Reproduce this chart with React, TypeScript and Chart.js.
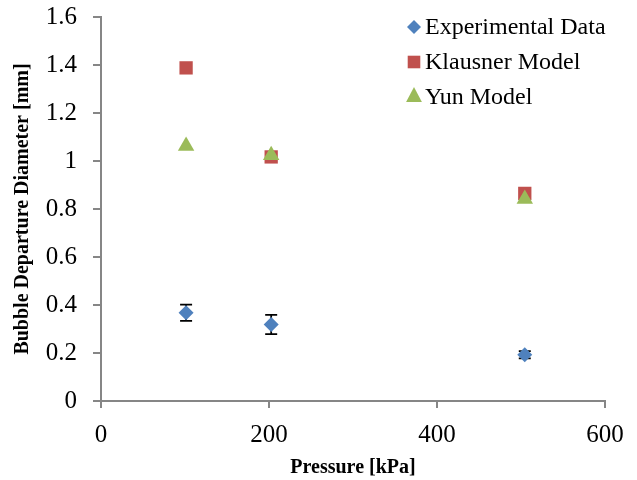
import React, { useEffect, useRef } from "react";
import { Chart, registerables } from "chart.js";

Chart.register(...registerables);

const seriesNames = ["Experimental Data", "Klausner Model", "Yun Model"];
const colors = ["#4F81BD", "#C0504D", "#9BBB59"];
const pressures = [101.3, 202.6, 504.5];
const experimental = [0.368, 0.319, 0.193];
const experimentalErr = [0.034, 0.04, 0.015];
const klausner = [1.388, 1.017, 0.865];
const yun = [1.062, 1.024, 0.842];
const xTicks = [0, 200, 400, 600];
const yTicks = [0, 0.2, 0.4, 0.6, 0.8, 1, 1.2, 1.4, 1.6];

const FONT = "'Liberation Serif', 'Times New Roman', serif";

const errorBarPlugin = {
  id: "errorBars",
  beforeDatasetsDraw(chart: any) {
    const ctx = chart.ctx;
    const xs = chart.scales.x;
    const ys = chart.scales.y;
    ctx.save();
    ctx.strokeStyle = "#000000";
    ctx.lineWidth = 1.75;
    pressures.forEach((p, i) => {
      const px = xs.getPixelForValue(p);
      const top = ys.getPixelForValue(experimental[i] + experimentalErr[i]);
      const bot = ys.getPixelForValue(experimental[i] - experimentalErr[i]);
      ctx.beginPath();
      ctx.moveTo(px, top);
      ctx.lineTo(px, bot);
      ctx.moveTo(px - 6, top);
      ctx.lineTo(px + 6, top);
      ctx.moveTo(px - 6, bot);
      ctx.lineTo(px + 6, bot);
      ctx.stroke();
    });
    ctx.restore();
  },
};

function drawMarker(ctx: CanvasRenderingContext2D, style: string, r: number, x: number, y: number) {
  ctx.beginPath();
  if (style === "rectRot") {
    ctx.moveTo(x - r, y);
    ctx.lineTo(x, y - r);
    ctx.lineTo(x + r, y);
    ctx.lineTo(x, y + r);
  } else if (style === "rect") {
    ctx.rect(x - r, y - r, 2 * r, 2 * r);
  } else {
    ctx.moveTo(x, y - r);
    ctx.lineTo(x + r, y + r * 0.9);
    ctx.lineTo(x - r, y + r * 0.9);
  }
  ctx.closePath();
  ctx.fill();
}

const legendPlugin = {
  id: "customLegend",
  afterDraw(chart: any) {
    const ctx = chart.ctx;
    const styles = ["rectRot", "rect", "triangle"];
    const radii = [7, 6.3, 7.9];
    const x0 = 414;
    const rows = [27, 62, 95];
    const textRows = [27, 62, 97];
    ctx.save();
    ctx.font = `24px ${FONT}`;
    ctx.textBaseline = "middle";
    seriesNames.forEach((name, i) => {
      ctx.fillStyle = colors[i];
      drawMarker(ctx, styles[i], radii[i], x0, rows[i]);
      ctx.fillStyle = "#000000";
      ctx.fillText(name, x0 + 11, textRows[i] + 1);
    });
    ctx.restore();
  },
};

export default function App() {
  const canvasRef = useRef<HTMLCanvasElement | null>(null);

  useEffect(() => {
    if (!canvasRef.current) return;
    const mk = (vals: number[]) => pressures.map((p, i) => ({ x: p, y: vals[i] }));
    const chart = new Chart(canvasRef.current, {
      type: "scatter",
      data: {
        datasets: [
          {
            label: seriesNames[2],
            data: mk(yun),
            pointStyle: "triangle",
            pointRadius: 9.5,
            backgroundColor: colors[2],
            borderColor: colors[2],
            borderWidth: 0,
          },
          {
            label: seriesNames[1],
            data: mk(klausner),
            pointStyle: "rect",
            pointRadius: 9.4,
            backgroundColor: colors[1],
            borderColor: colors[1],
            borderWidth: 0,
          },
          {
            label: seriesNames[0],
            data: mk(experimental),
            pointStyle: "rectRot",
            pointRadius: 7.5,
            backgroundColor: colors[0],
            borderColor: colors[0],
            borderWidth: 0,
          },
        ],
      },
      options: {
        animation: false,
        responsive: true,
        maintainAspectRatio: false,
        layout: { padding: { top: 17, right: 32, left: 0, bottom: 0 } },
        plugins: {
          legend: { display: false },
          tooltip: { enabled: false },
        },
        scales: {
          x: {
            type: "linear",
            min: 0,
            max: 600,
            afterBuildTicks: (s: any) => {
              s.ticks = xTicks.map((v) => ({ value: v }));
            },
            afterFit: (s: any) => {
              s.height = 79;
              s.paddingTop = 0;
              s.paddingBottom = 0;
            },
            grid: {
              drawOnChartArea: false,
              drawTicks: true,
              tickLength: 7,
              color: "#868686",
              lineWidth: 2,
            },
            border: { display: true, color: "#868686", width: 2 },
            ticks: {
              color: "#000000",
              font: { family: FONT, size: 25 },
              padding: 12,
            },
            title: {
              display: true,
              text: "Pressure [kPa]",
              color: "#000000",
              font: { family: FONT, size: 20, weight: "bold" },
              padding: { top: 0, bottom: 0 },
            },
          },
          y: {
            type: "linear",
            min: 0,
            max: 1.6,
            afterBuildTicks: (s: any) => {
              s.ticks = yTicks.map((v) => ({ value: v }));
            },
            afterFit: (s: any) => {
              s.width = 101;
              s.paddingTop = 0;
              s.paddingBottom = 0;
            },
            grid: {
              drawOnChartArea: false,
              drawTicks: true,
              tickLength: 8,
              color: "#868686",
              lineWidth: 2,
            },
            border: { display: true, color: "#868686", width: 2 },
            ticks: {
              color: "#000000",
              font: { family: FONT, size: 25 },
              padding: 16,
              callback: (v: any) => String(Math.round(Number(v) * 10) / 10),
            },
            title: {
              display: true,
              text: "Bubble Departure Diameter [mm]",
              color: "#000000",
              font: { family: FONT, size: 20, weight: "bold" },
              padding: { top: 11, bottom: 0 },
            },
          },
        },
      },
      plugins: [errorBarPlugin, legendPlugin],
    } as any);
    return () => chart.destroy();
  }, []);

  return (
    <div style={{ position: "fixed", left: 0, top: 0, width: 637, height: 480, background: "#ffffff" }}>
      <canvas ref={canvasRef} />
    </div>
  );
}
